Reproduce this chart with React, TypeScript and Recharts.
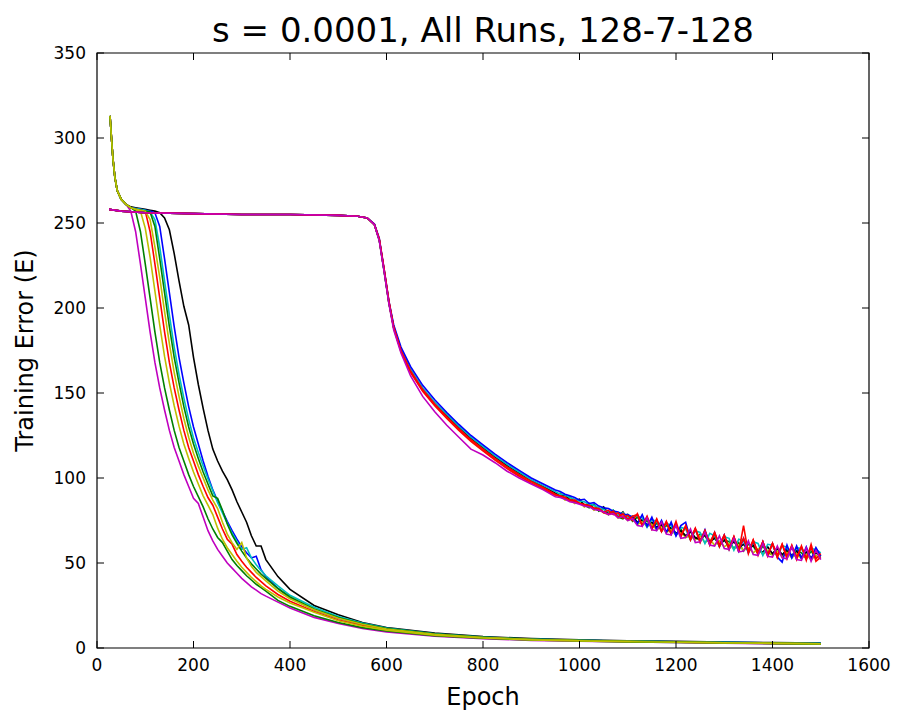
import { LineChart, Line, XAxis, YAxis, ReferenceArea } from "recharts";

const fastEpochs = [
  27, 30, 33, 37, 42, 50, 60, 70, 80, 90, 100, 110, 120, 130, 140, 150, 160, 170, 180, 190, 200,
  210, 220, 230, 240, 250, 260, 270, 280, 290, 300, 310, 320, 330, 340, 350, 375, 400, 450, 500,
  550, 600, 700, 800, 900, 1000, 1100, 1200, 1300, 1400, 1500
];

const slowEpochs = [
  25, 50, 100, 200, 300, 400, 500, 540, 560, 575, 585, 595, 605, 615, 630, 650, 675, 700, 725,
  750, 775, 800, 825, 850, 875, 900, 925,
  950, 960, 970, 980, 990, 1000, 1010, 1020, 1030, 1040, 1050, 1060, 1070, 1080, 1090, 1100,
  1110, 1120, 1130, 1140, 1150, 1160, 1170, 1180, 1190, 1200, 1210, 1220, 1230, 1240, 1250,
  1260, 1270, 1280, 1290, 1300, 1310, 1320, 1330, 1340, 1350, 1360, 1370, 1380, 1390, 1400,
  1410, 1420, 1430, 1440, 1450, 1460, 1470, 1480, 1490, 1500
];

// runs that leave the plateau early
const fastMagenta = [313, 300, 288, 277, 269, 264, 261, 257, 245, 226, 206, 186, 168, 153, 140, 128, 118, 110, 102, 95, 88, 85, 77, 69, 63, 58, 54, 50, 47, 44, 41, 38.5, 36, 34, 32, 30.5, 27, 23.5, 18, 14.5, 11.5, 9.5, 7, 5.5, 4.5, 4, 3.5, 3.2, 2.8, 2.5, 2.2];
const fastGreen1 = [313, 300, 288, 277, 269, 264, 261, 259, 257, 245, 226, 206, 186, 168, 153, 140, 128, 118, 110, 102, 95, 89, 83, 76, 70, 65, 62, 57, 52, 48.5, 45.5, 42.5, 40, 37.5, 35.5, 33.5, 28, 24.5, 19, 15, 12, 10, 7.3, 5.7, 4.7, 4.1, 3.6, 3.3, 2.9, 2.6, 2.3];
const fastYellow1 = [313, 300, 288, 277, 269, 264, 261, 259, 258, 257, 247, 230, 210, 190, 171.5, 156, 142.5, 130.5, 120, 111.5, 103.5, 96.5, 89.5, 84, 78.5, 70.5, 64, 59, 55, 51, 47.5, 44.5, 41.5, 39, 36.5, 34.5, 30, 26.5, 21, 16, 12.8, 10.5, 7.6, 5.9, 4.8, 4.2, 3.7, 3.4, 3, 2.7, 2.4];
const fastRed = [313, 300, 288, 277, 269, 264, 261, 259, 258, 257.5, 257, 245, 226, 206, 186, 168, 153, 140, 128, 118, 110, 102, 95, 88.5, 84, 77, 70, 64, 61, 55, 51, 47.5, 44.5, 41.5, 39, 36.5, 31.5, 27.5, 21.5, 16.5, 13.2, 10.8, 7.8, 6, 4.9, 4.3, 3.8, 3.4, 3, 2.7, 2.4];
const fastYellow2 = [313, 300, 288, 277, 269, 264, 261, 259, 258, 257.5, 257, 252, 236, 218, 198, 179, 162, 148, 135, 124, 114.5, 107, 100, 93, 87, 82, 74, 67, 62, 58, 62, 53, 48, 44.5, 42, 39.5, 33.5, 29, 22.5, 17.5, 14, 11.2, 8, 6.2, 5, 4.4, 3.9, 3.5, 3.1, 2.8, 2.5];
const fastGreen2 = [313, 300, 288, 277, 269, 264, 261, 259, 258, 257.5, 257, 256.5, 248, 229, 209, 189, 171, 156, 142, 130, 120, 111.5, 103.5, 96.5, 89.5, 88, 81, 73, 66.5, 61.5, 57, 53, 49.5, 46.5, 43.5, 41, 35, 30, 23, 18, 14.3, 11.5, 8.2, 6.3, 5.1, 4.5, 4, 3.6, 3.2, 2.9, 2.6];
const fastCyan = [313, 300, 288, 277, 269, 264, 261, 259, 258.5, 258, 257.5, 256.5, 252, 236, 216, 196, 177, 161, 147, 134.5, 123.5, 115, 107, 99.5, 92.5, 85.5, 79.5, 73.5, 67.5, 62.5, 58, 59, 53, 49, 45.5, 42.5, 36.5, 31, 24, 18.5, 14.7, 11.8, 8.4, 6.4, 5.2, 4.6, 4.1, 3.7, 3.3, 3, 2.7];
const fastBlue = [313, 300, 288, 277, 269, 264, 261, 259, 258.5, 258, 257.5, 257, 256, 248, 229, 209, 189, 171, 156, 142, 130, 120, 110, 101, 93, 86.5, 80.5, 74.5, 69, 64, 59.5, 56, 53, 54, 46, 42, 35, 29.5, 22.5, 17.5, 13.8, 11, 8, 6.2, 5.1, 4.5, 4, 3.6, 3.3, 3, 2.7];
const fastBlack = [313, 300, 288, 277, 269, 264, 261, 259.5, 259, 258.5, 258, 257.5, 257, 256, 253, 246, 232, 216, 201, 190, 171, 155, 141, 128, 117, 110, 104, 99, 93, 86, 80, 74, 66, 60, 60, 52, 42, 34.5, 25, 19.5, 15, 12, 8.8, 6.8, 5.5, 4.8, 4.3, 3.9, 3.5, 3.2, 2.9];

// runs that stay on the plateau until ~580
const slowBlue = [
  258, 257, 256, 255.5, 255, 255, 254.5, 254, 253, 249.5, 241, 223, 204, 190, 177, 165.5, 154.5, 146, 138.5, 131.5, 125, 119.5, 114, 109, 104.5, 100, 96.5,
  93, 92, 90.5, 89.5, 88.5, 87, 87.5, 85, 85.5, 83.5, 82.5, 82, 80.5, 80, 78.5, 78.5, 77, 73, 78.5, 71.5, 77, 69.5, 75, 68, 74, 66, 72, 74, 64, 70,
  62.5, 69.5, 61, 68, 60, 66.5, 58, 65, 57, 64.5, 56, 63, 55.5, 62.5, 54.5, 61.5, 53.5, 50.5, 60.5, 53, 60, 52.5, 59.5, 52, 59, 54
];
const slowGreen = [
  258, 257, 256, 255.5, 255, 255, 254.5, 254, 253, 249, 240, 222, 203, 188, 175, 163, 152, 143.5, 136, 129, 122.5, 117, 111.5, 106.5, 102, 97.5, 94,
  90, 91, 88, 89, 85.5, 87, 84, 82.5, 84.5, 80.5, 82, 78.5, 81, 77, 76, 78.5, 74.5, 77, 73, 75, 71, 73.5, 69.5, 72, 70.5, 67, 70, 65.5, 68.5, 64,
  67, 66, 61.5, 65.5, 60, 63.5, 62.5, 58.5, 62, 57, 61, 60, 55.5, 60, 56, 55, 59, 54.5, 58, 53.5, 57.5, 56, 52.5, 57, 53, 54.5
];
const slowRed = [
  258, 257, 256, 255.5, 255, 255, 254.5, 254, 253, 249, 240.5, 223, 204, 188.5, 174.5, 162, 151, 142.5, 135, 128, 121.5, 116, 110.5, 105.5, 101, 97, 93.5,
  90, 89.5, 88.5, 86.5, 86.5, 85, 84, 84, 82, 81.5, 79.5, 79, 80.5, 77, 79, 75.5, 77.5, 78.5, 72, 77, 70, 75.5, 68.5, 74, 67, 74.5, 65.5, 71.5, 63.5, 70,
  62, 69, 60.5, 67.5, 59.5, 66, 58, 65.5, 56.5, 72, 55.5, 63.5, 54.5, 62.5, 54, 61.5, 53, 61, 52.5, 60.5, 52, 60, 51.5, 61, 51, 53.5
];
const slowCyan = [
  258, 257, 256, 255.5, 255, 255, 254.5, 254, 253, 249, 240, 222, 203.5, 189, 176, 164, 153, 144.5, 137.5, 130.5, 124, 118.5, 113, 108, 103.5, 99, 95.5,
  92, 90.5, 90, 88.5, 87.5, 86.5, 86, 84.5, 84, 82.5, 81.5, 80, 81, 78, 79.5, 76.5, 77.5, 77.5, 76.5, 71, 75.5, 74.5, 68.5, 73.5, 72, 66, 71, 70, 63.5, 69,
  68, 61.5, 67.5, 66, 59.5, 65.5, 64.5, 57.5, 64, 63, 56, 62.5, 61.5, 54.5, 61, 60.5, 53.5, 60, 59.5, 53, 59, 58.5, 52.5, 58.5, 58, 56
];
const slowBlack = [
  258, 257, 256, 255.5, 255, 255, 254.5, 254, 253, 249, 240, 222, 203, 188.5, 175.5, 163.5, 152.5, 144, 137, 130, 123.5, 118, 112.5, 107.5, 103, 98.5, 95,
  91, 89, 90, 87, 86.5, 87.5, 84, 85, 82, 81, 83, 79, 80.5, 77.5, 80, 76, 77.5, 74, 75.5, 72.5, 74, 71, 72.5, 68.5, 71, 67.5, 69, 66, 68.5, 65,
  63.5, 66.5, 62.5, 64.5, 61, 63.5, 59.5, 62.5, 59, 61, 57.5, 60.5, 57, 56.5, 59.5, 55.5, 58.5, 55, 57.5, 54.5, 57, 53.5, 56.5, 53, 56, 54
];
const slowYellow = [
  258, 257, 256, 255.5, 255, 255, 254.5, 254, 253, 249, 240, 222, 203, 188, 174.5, 162.5, 151.5, 143, 135.5, 128.5, 122, 116.5, 111, 106, 101.5, 97.5, 94,
  89.5, 90, 87, 88, 85, 86, 83, 84.5, 81, 82.5, 79.5, 78.5, 80.5, 76.5, 78, 75, 76.5, 72.5, 74.5, 71.5, 73, 69.5, 71.5, 68, 69.5, 66.5, 68.5, 65, 66, 63.5,
  66, 62, 64, 60.5, 63, 59.5, 61.5, 58, 60.5, 57.5, 59, 56, 58.5, 55, 57.5, 54.5, 57, 53.5, 56.5, 53, 55.5, 52.5, 55, 52, 54.5, 52.5
];
const slowRed2 = [
  258, 257, 256, 255.5, 255, 255, 254.5, 254, 253, 249, 240.5, 222.5, 203.5, 188.5, 175, 163, 152, 143.5, 136, 129, 122.5, 117, 111.5, 106.5, 102, 98, 94.5,
  90.5, 89, 88.5, 87, 87, 85, 84.5, 83.5, 82.5, 82, 80, 81, 78.5, 79.5, 76.5, 78, 75, 79, 72, 77.5, 70, 76, 68.5, 74.5, 67, 73, 65.5, 72, 64, 70.5,
  63, 69, 61.5, 68, 60.5, 66.5, 59, 65.5, 58, 64.5, 57, 63.5, 56, 62.5, 55, 61.5, 54.5, 61, 54, 60, 53.5, 59.5, 53, 59, 52.5, 55.5
];
const slowMagenta = [
  258, 257, 256, 255.5, 255, 255, 254.5, 254, 253, 249, 239.5, 221.5, 202.5, 187, 173.5, 160, 148, 139, 131, 124, 117, 113.5, 109, 104, 100, 96.5, 93,
  89, 88.5, 87.5, 86, 85.5, 84.5, 83.5, 83, 81.5, 81, 80, 78.5, 79, 76.5, 77.5, 75, 76, 72, 71.5, 76.5, 69.5, 69, 74, 67, 66.5, 72, 64.5, 65, 70, 62,
  62.5, 68, 60.5, 60, 66, 58.5, 58, 64.5, 56.5, 57, 63, 55, 54.5, 61.5, 54, 53.5, 60, 53, 52.5, 59.5, 52, 51.5, 59, 51, 57.5, 52
];

const xTicks = [0, 200, 400, 600, 800, 1000, 1200, 1400, 1600];
const yTicks = [0, 50, 100, 150, 200, 250, 300, 350];

// matplotlib classic colours
const C = {
  b: "#0000ff",
  g: "#008000",
  r: "#ff0000",
  c: "#00bfbf",
  m: "#bf00bf",
  y: "#bfbf00",
  k: "#000000"
};

type Run = { name: string; color: string; epochs: number[]; values: number[] };

// drawing order: later runs end up on top
const runs: Run[] = [
  { name: "fastBlack", color: C.k, epochs: fastEpochs, values: fastBlack },
  { name: "fastBlue", color: C.b, epochs: fastEpochs, values: fastBlue },
  { name: "fastCyan", color: C.c, epochs: fastEpochs, values: fastCyan },
  { name: "fastRed", color: C.r, epochs: fastEpochs, values: fastRed },
  { name: "fastMagenta", color: C.m, epochs: fastEpochs, values: fastMagenta },
  { name: "fastGreen2", color: C.g, epochs: fastEpochs, values: fastGreen2 },
  { name: "fastYellow2", color: C.y, epochs: fastEpochs, values: fastYellow2 },
  { name: "fastGreen1", color: C.g, epochs: fastEpochs, values: fastGreen1 },
  { name: "fastYellow1", color: C.y, epochs: fastEpochs, values: fastYellow1 },
  { name: "slowGreen", color: C.g, epochs: slowEpochs, values: slowGreen },
  { name: "slowYellow", color: C.y, epochs: slowEpochs, values: slowYellow },
  { name: "slowBlack", color: C.k, epochs: slowEpochs, values: slowBlack },
  { name: "slowCyan", color: C.c, epochs: slowEpochs, values: slowCyan },
  { name: "slowBlue", color: C.b, epochs: slowEpochs, values: slowBlue },
  { name: "slowRed2", color: C.r, epochs: slowEpochs, values: slowRed2 },
  { name: "slowRed", color: C.r, epochs: slowEpochs, values: slowRed },
  { name: "slowMagenta", color: C.m, epochs: slowEpochs, values: slowMagenta }
];

const W = 886;
const H = 701;
const PAGE_H = 709;
const PLOT = { left: 89, top: 45, right: 861, bottom: 640 };
const TICK_LEN = 7;
const FONT = '"DejaVu Sans", "Bitstream Vera Sans", sans-serif';

// ticks point inward, on both sides of the box
function XTick(props: any) {
  const { x, payload } = props;
  return (
    <g>
      <line x1={x} x2={x} y1={PLOT.bottom} y2={PLOT.bottom - TICK_LEN} stroke="#000" />
      <line x1={x} x2={x} y1={PLOT.top} y2={PLOT.top + TICK_LEN} stroke="#000" />
      <text x={x} y={PLOT.bottom + 23} textAnchor="middle" fontSize={17} fontFamily={FONT} fill="#000">
        {payload.value}
      </text>
    </g>
  );
}

function YTick(props: any) {
  const { y, payload } = props;
  return (
    <g>
      <line x1={PLOT.left} x2={PLOT.left + TICK_LEN} y1={y} y2={y} stroke="#000" />
      <line x1={PLOT.right} x2={PLOT.right - TICK_LEN} y1={y} y2={y} stroke="#000" />
      <text x={PLOT.left - 11} y={y + 6} textAnchor="end" fontSize={17} fontFamily={FONT} fill="#000">
        {payload.value}
      </text>
    </g>
  );
}

export default function App() {
  return (
    <div style={{ position: "relative", width: W, height: PAGE_H, background: "#fff" }}>
      <LineChart width={W} height={H} margin={{ top: PLOT.top, right: W - PLOT.right, bottom: 0, left: 0 }}>
        <XAxis
          dataKey="epoch"
          type="number"
          domain={[0, 1600]}
          ticks={xTicks}
          interval={0}
          height={H - PLOT.bottom}
          tickLine={false}
          axisLine={false}
          tick={<XTick />}
          allowDataOverflow
        />
        <YAxis
          type="number"
          domain={[0, 350]}
          ticks={yTicks}
          interval={0}
          width={PLOT.left}
          tickLine={false}
          axisLine={false}
          tick={<YTick />}
          allowDataOverflow
        />
        {runs.map(r => (
          <Line
            key={r.name}
            data={r.epochs.map((e, i) => ({ epoch: e, [r.name]: r.values[i] }))}
            dataKey={r.name}
            type="linear"
            stroke={r.color}
            strokeWidth={1.6}
            dot={false}
            activeDot={false}
            isAnimationActive={false}
          />
        ))}
        <ReferenceArea x1={0} x2={1600} y1={0} y2={350} fill="none" stroke="#000" strokeWidth={1.2} />
      </LineChart>
      <svg width={W} height={PAGE_H} style={{ position: "absolute", left: 0, top: 0, pointerEvents: "none" }}>
        <text x={(PLOT.left + PLOT.right) / 2} y={34} textAnchor="middle" fontSize={34} fontFamily={FONT} fill="#000">
          s = 0.0001, All Runs, 128-7-128
        </text>
        <text x={(PLOT.left + PLOT.right) / 2} y={697} textAnchor="middle" fontSize={24} fontFamily={FONT} fill="#000">
          Epoch
        </text>
        <text
          transform={`translate(25, ${(PLOT.top + PLOT.bottom) / 2}) rotate(-90)`}
          textAnchor="middle"
          fontSize={24}
          fontFamily={FONT}
          fill="#000"
        >
          Training Error (E)
        </text>
      </svg>
    </div>
  );
}
